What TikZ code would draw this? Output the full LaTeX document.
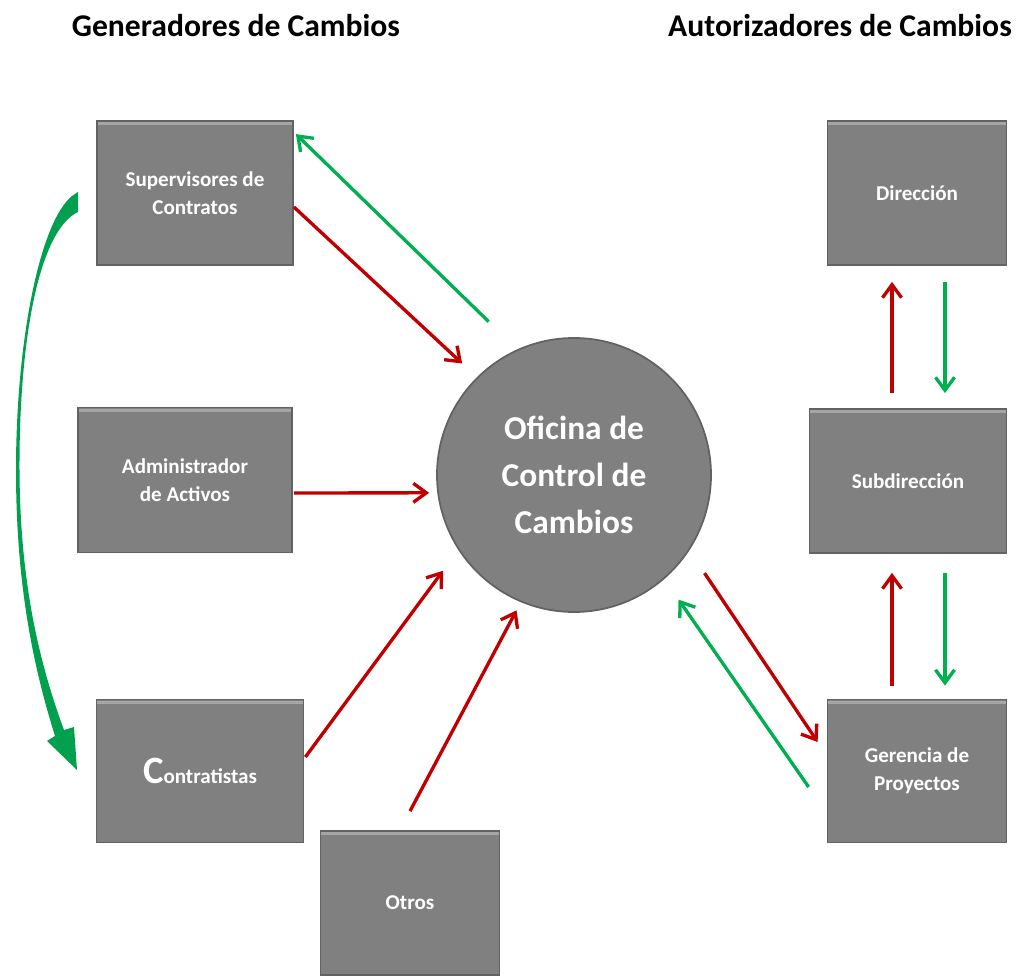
\documentclass[tikz,border=0pt]{standalone}
\usepackage{fontspec}
\setmainfont{Carlito}
\usetikzlibrary{arrows.meta}
\definecolor{boxgray}{RGB}{128,128,128}
\definecolor{boxedge}{RGB}{98,98,98}
\definecolor{boxlight}{RGB}{165,165,165}
\definecolor{arrred}{RGB}{192,0,0}
\definecolor{arrgreen}{RGB}{0,176,80}
\definecolor{bendgreen}{RGB}{0,160,78}

\begin{document}
\begin{tikzpicture}[x=0.2mm, y=-0.2mm,
    box/.style={draw=boxedge, line width=1pt, fill=boxgray, text=white,
        font=\fontsize{12}{16}\selectfont\bfseries, align=center, inner sep=0pt,
        path picture={\draw[boxlight, line width=1.6pt]
            ([yshift=-1.6pt]path picture bounding box.north west) --
            ([yshift=-1.6pt]path picture bounding box.north east);}},
    title/.style={anchor=base, font=\fontsize{18}{22}\selectfont\bfseries},
    redarr/.style={draw=arrred, line width=1.9pt, -{Straight Barb[length=2.6mm,width=3.8mm]}},
    greenarr/.style={draw=arrgreen, line width=1.9pt, -{Straight Barb[length=2.6mm,width=3.8mm]}}]
    \useasboundingbox (0,0) rectangle (1019,976);

    % Titles
    \node[title] (gen) at (236,37) {Generadores de Cambios};
    \node[title] (aut) at (840,37) {Autorizadores de Cambios};

    % Generators
    \node[box, minimum width=39.2mm, minimum height=28.8mm] (sup) at (195,193) {Supervisores de\\Contratos};
    \node[box, minimum width=42.8mm, minimum height=29mm] (adm) at (185,480) {Administrador\\de Activos};
    \node[box, minimum width=41.4mm, minimum height=28.6mm] (con) at (200,771) {{\fontsize{22}{22}\selectfont C}ontratistas};
    \node[box, minimum width=35.8mm, minimum height=28.8mm] (otr) at (410,903) {Otros};

    % Office
    \node[circle, draw=boxedge, line width=1pt, fill=boxgray, text=white, minimum size=54.8mm,
        inner sep=0pt, align=center, font=\fontsize{19}{26.6}\selectfont\bfseries] (ofi) at (574,475)
        {Oficina de\\Control de\\Cambios};

    % Authorizers
    \node[box, minimum width=35.8mm, minimum height=28.8mm] (dir) at (917,193) {Dirección};
    \node[box, minimum width=39.4mm, minimum height=28.8mm] (sub) at (908,481) {Subdirección};
    \node[box, minimum width=35.8mm, minimum height=28.6mm] (ger) at (917,771) {Gerencia de\\Proyectos};

    % Requests to the office
    \draw[greenarr] ([shift={(-18.5,-32.8)}]ofi.119.5) -- ([shift={(2,14)}]sup.north east);
    \draw[redarr] ([shift={(0,14)}]sup.east) -- ([shift={(-14.3,-14)}]ofi.135.5);
    \draw[redarr] ([shift={(1,13)}]adm.east) -- ([shift={(-8,1)}]ofi.187.1);
    \draw[redarr] ([shift={(1,-14)}]con.east) -- ([shift={(-19.4,14.7)}]ofi.216.9);
    \draw[redarr] ([shift={(0,-19)}]otr.north) -- ([shift={(-3.6,8.4)}]ofi.247.5);

    % Office and authorizers
    \draw[redarr] ([shift={(20.4,15.1)}]ofi.323.8) -- ([shift={(-9,-29)}]ger.west);
    \draw[greenarr] ([shift={(-18,16)}]ger.west) -- ([shift={(15.9,19)}]ofi.310);
    \draw[redarr] ([shift={(-16,-15)}]sub.north) -- ([shift={(-25,16)}]dir.south);
    \draw[greenarr] ([shift={(28,16)}]dir.south) -- ([shift={(37,-15)}]sub.north);
    \draw[redarr] ([shift={(-25,-13)}]ger.north) -- ([shift={(-16,19)}]sub.south);
    \draw[greenarr] ([shift={(37,19)}]sub.south) -- ([shift={(28,-13)}]ger.north);

    % Curved arrow between generators
    \fill[bendgreen] (72,196) -- (78,192) -- (78,212)
        .. controls (40,230) and (19,335) .. (19.5,470)
        .. controls (20,590) and (42,670) .. (64,730)
        -- (74,727) -- (77,770) -- (47,741) -- (55,736)
        .. controls (35,672) and (16,590) .. (16,470)
        .. controls (16,340) and (40,222) .. (72,196) -- cycle;
\end{tikzpicture}
\end{document}
